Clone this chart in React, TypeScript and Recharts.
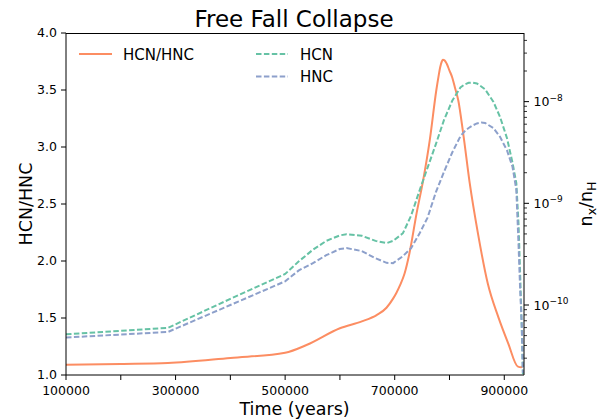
import { LineChart, Line, XAxis, YAxis, Legend } from 'recharts';

// time grid for the two abundances (years)
const speciesYears = [
  100000, 286000, 400000, 500000, 525000, 550000, 575000, 600000, 612000, 640000,
  665000, 685000, 697000, 715000, 730000, 745000, 760000, 775000, 790000, 805000,
  820000, 828000, 835000, 842000, 850000, 858000, 865000, 880000, 892000, 905000,
  915000, 922000, 926000, 929000, 932000, 934000,
];
const hcn = [
  5.16e-11, 5.96e-11, 1.15e-10, 2.02e-10, 2.69e-10, 3.47e-10, 4.27e-10, 4.84e-10, 4.97e-10, 4.79e-10,
  4.27e-10, 4.06e-10, 4.27e-10, 5.08e-10, 7.59e-10, 1.32e-9, 2.24e-9, 3.8e-9, 6.61e-9, 1.02e-8,
  1.38e-8, 1.48e-8, 1.53e-8, 1.54e-8, 1.51e-8, 1.41e-8, 1.32e-8, 1.0e-8, 7.13e-9, 4.37e-9,
  2.51e-9, 1.58e-9, 6.31e-10, 2.0e-10, 5.62e-11, 2.09e-11,
];
const hnc = [
  4.79e-11, 5.43e-11, 1.0e-10, 1.71e-10, 2.19e-10, 2.57e-10, 3.09e-10, 3.56e-10, 3.63e-10, 3.39e-10,
  2.88e-10, 2.6e-10, 2.58e-10, 3.02e-10, 3.63e-10, 5.01e-10, 7.24e-10, 1.28e-9, 2.04e-9, 3.16e-9,
  4.57e-9, 5.13e-9, 5.5e-9, 5.82e-9, 6.1e-9, 6.22e-9, 6.17e-9, 5.5e-9, 4.53e-9, 3.31e-9,
  2.29e-9, 1.36e-9, 3.98e-10, 1.41e-10, 6.31e-11, 2.14e-11,
];

const ratioYears = [
  100000, 200000, 286000, 400000, 500000, 540000, 600000, 640000, 667000, 685000,
  697000, 703000, 710000, 718000, 727000, 740000, 752000, 764000, 776000, 780000,
  783000, 786000, 788000, 791000, 795000, 800000, 805000, 810000, 816000, 825000,
  837000, 852000, 870000, 889000, 907000, 925000, 931000, 935000,
];
const ratio = [
  1.09, 1.097, 1.105, 1.15, 1.195, 1.265, 1.41, 1.47, 1.525, 1.59,
  1.67, 1.72, 1.79, 1.89, 2.07, 2.42, 2.71, 3.06, 3.5, 3.62,
  3.7, 3.75, 3.765, 3.76, 3.73, 3.67, 3.61, 3.52, 3.41, 3.12,
  2.68, 2.24, 1.8, 1.51, 1.28, 1.073, 1.068, 1.09,
];

const xTicks = [100000, 200000, 300000, 400000, 500000, 600000, 700000, 800000, 900000];
const leftTicks = [1.0, 1.5, 2.0, 2.5, 3.0, 3.5, 4.0];
const majorTicks = [1e-10, 1e-9, 1e-8];
const majorLabels = ['−10', '−9', '−8'];
const minorTicks = [
  3e-11, 4e-11, 5e-11, 6e-11, 7e-11, 8e-11, 9e-11,
  2e-10, 3e-10, 4e-10, 5e-10, 6e-10, 7e-10, 8e-10, 9e-10,
  2e-9, 3e-9, 4e-9, 5e-9, 6e-9, 7e-9, 8e-9, 9e-9,
  2e-8, 3e-8, 4e-8,
];

const speciesData = speciesYears.map((t, i) => ({ t, hcn: hcn[i], hnc: hnc[i] }));
const ratioData = ratioYears.map((t, i) => ({ t, ratio: ratio[i] }));

const FONT = 'DejaVu Sans';
const ORANGE = '#fc8d62';
const GREEN = '#66c2a5';
const BLUE = '#8da0cb';
const DASH = '5.5 2.4';

function XTick({ x, y, payload }: any) {
  const v = payload.value;
  const show = (v / 100000) % 2 === 1;
  return (
    <g>
      <line x1={x} x2={x} y1={375} y2={380} stroke="#000" strokeWidth={1} />
      {show && (
        <text x={x} y={y + 8.9} textAnchor="middle" fontSize={12.5} fontFamily={FONT} fill="#000">
          {v}
        </text>
      )}
    </g>
  );
}

function RightTick({ x, y, payload }: any) {
  const v = payload.value;
  const idx = majorTicks.indexOf(v);
  const major = idx >= 0;
  return (
    <g>
      <line x1={x} x2={x + (major ? 5 : 3)} y1={y} y2={y} stroke="#000" strokeWidth={major ? 1 : 0.8} />
      {major && (
        <text x={x + 9.5} y={y + 4.6} fontSize={12.5} fontFamily={FONT} fill="#000">
          10
          <tspan dy={-5.5} fontSize={9}>
            {majorLabels[idx]}
          </tspan>
        </text>
      )}
    </g>
  );
}

function LegendBox() {
  return (
    <svg width={600} height={100} style={{ display: 'block' }}>
      <line x1={79} x2={112} y1={54} y2={54} stroke={ORANGE} strokeWidth={2} />
      <text x={123} y={59.5} fontSize={15} fontFamily={FONT} fill="#000">HCN/HNC</text>
      <line x1={256} x2={288} y1={54} y2={54} stroke={GREEN} strokeWidth={2} strokeDasharray={DASH} />
      <text x={300} y={59.5} fontSize={15} fontFamily={FONT} fill="#000">HCN</text>
      <line x1={256} x2={288} y1={76.5} y2={76.5} stroke={BLUE} strokeWidth={2} strokeDasharray={DASH} />
      <text x={300} y={82} fontSize={15} fontFamily={FONT} fill="#000">HNC</text>
    </svg>
  );
}

export default function App() {
  return (
    <div style={{ position: 'relative', width: 600, height: 419, background: '#fff' }}>
      <style>{'body{margin:0}'}</style>
      <LineChart width={600} height={419} margin={{ top: 33, right: 0, bottom: 0, left: 0 }}>
        <XAxis
          dataKey="t"
          type="number"
          domain={[100000, 936000]}
          allowDataOverflow
          ticks={xTicks}
          interval={0}
          height={44}
          tickSize={5}
          tickMargin={6.5}
          tickLine={false}
          tick={<XTick />}
          axisLine={{ stroke: '#000', strokeWidth: 1 }}
        />
        <YAxis
          yAxisId="left"
          type="number"
          domain={[1, 4]}
          allowDataOverflow
          ticks={leftTicks}
          interval={0}
          width={66}
          tickSize={5}
          tickMargin={4}
          tickFormatter={(v: number) => v.toFixed(1)}
          tick={{ fontSize: 12.5, fill: '#000', fontFamily: FONT }}
          tickLine={{ stroke: '#000', strokeWidth: 1 }}
          axisLine={{ stroke: '#000', strokeWidth: 1 }}
        />
        <YAxis
          yAxisId="right"
          orientation="right"
          type="number"
          scale="log"
          domain={[2.05e-11, 4.73e-8]}
          allowDataOverflow
          ticks={[...minorTicks, ...majorTicks]}
          interval={0}
          width={76}
          tickSize={0}
          tickMargin={0}
          tickLine={false}
          tick={<RightTick />}
          axisLine={{ stroke: '#000', strokeWidth: 1 }}
        />
        <Legend
          layout="horizontal"
          verticalAlign="middle"
          align="center"
          wrapperStyle={{ left: 0, top: 0, width: 600, height: 100 }}
          content={() => <LegendBox />}
        />
        <Line
          data={ratioData}
          yAxisId="left"
          dataKey="ratio"
          name="HCN/HNC"
          type="monotone"
          stroke={ORANGE}
          strokeWidth={2}
          dot={false}
          isAnimationActive={false}
        />
        <Line
          data={speciesData}
          yAxisId="right"
          dataKey="hcn"
          name="HCN"
          type="linear"
          stroke={GREEN}
          strokeWidth={2}
          strokeDasharray={DASH}
          dot={false}
          isAnimationActive={false}
        />
        <Line
          data={speciesData}
          yAxisId="right"
          dataKey="hnc"
          name="HNC"
          type="linear"
          stroke={BLUE}
          strokeWidth={2}
          strokeDasharray={DASH}
          dot={false}
          isAnimationActive={false}
        />
      </LineChart>
      <svg
        width={600}
        height={419}
        style={{ position: 'absolute', left: 0, top: 0, pointerEvents: 'none' }}
      >
        <line x1={66} x2={524} y1={33.5} y2={33.5} stroke="#000" strokeWidth={1} />
        <text x={294} y={26.7} textAnchor="middle" fontSize={23} fontFamily={FONT} fill="#000">
          Free Fall Collapse
        </text>
        <text x={294.5} y={414.5} textAnchor="middle" fontSize={17.5} fontFamily={FONT} fill="#000">
          Time (years)
        </text>
        <text
          transform="translate(31.5,204) rotate(-90)"
          textAnchor="middle"
          fontSize={17.5}
          fontFamily={FONT}
          fill="#000"
        >
          HCN/HNC
        </text>
        <text
          transform="translate(592,204) rotate(-90)"
          textAnchor="middle"
          fontSize={17.5}
          fontFamily={FONT}
          fill="#000"
        >
          n
          <tspan dy={3.5} fontSize={12.5}>x</tspan>
          <tspan dy={-3.5}>/n</tspan>
          <tspan dy={3.5} fontSize={12.5}>H</tspan>
        </text>
      </svg>
    </div>
  );
}
